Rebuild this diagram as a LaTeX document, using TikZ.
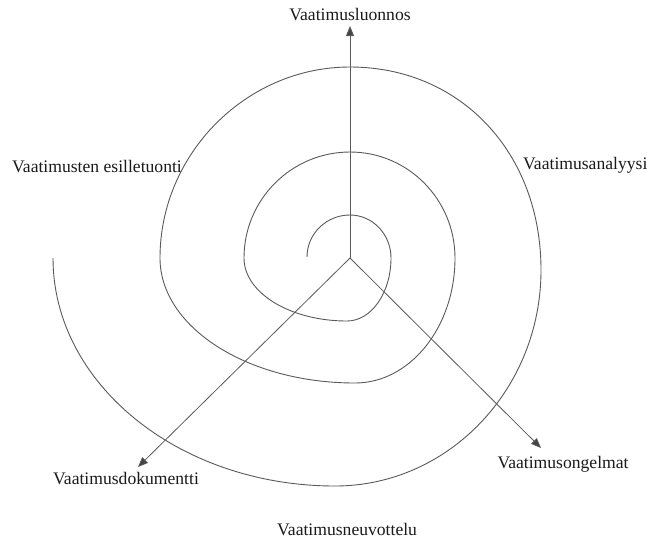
\documentclass[tikz,border=0pt]{standalone}
\usepackage{fontspec}
\setmainfont{Liberation Serif}
\usetikzlibrary{arrows.meta}
\definecolor{linegray}{HTML}{5A5A5A}
\definecolor{headgray}{HTML}{444444}
\definecolor{txt}{HTML}{1A1A1A}
\tikzset{
  lbl/.style={inner sep=0pt, text=txt, font=\fontsize{17.6}{20}\selectfont},
  axis/.style={draw=linegray, line width=0.8pt, -{Triangle[length=10pt,width=8pt,fill=headgray]}},
  spiralline/.style={draw=linegray, line width=0.9pt}
}
\begin{document}
\begin{tikzpicture}[x=1pt,y=-1pt]
\useasboundingbox (0,0) rectangle (647,539);
\fill[white] (0,0) rectangle (647,539);
\coordinate (c) at (350,258);
\coordinate (tipup) at (350,26);
\coordinate (tiprd) at (541,448);
\coordinate (tipld) at (138,467);
% spiral key points
\coordinate (L1) at (307,257);
\coordinate (T1) at (350,215);
\coordinate (R1) at (391,258);
\coordinate (B1) at (347,321);
\coordinate (L2) at (244,258);
\coordinate (T2) at (350,152);
\coordinate (R2) at (455,258);
\coordinate (B2) at (355,383);
\coordinate (L3) at (160,258);
\coordinate (T3) at (350,67);
\coordinate (R3) at (541,270);
\coordinate (B3) at (335,486);
\coordinate (E) at (53,258);
\draw[spiralline]
  (L1) .. controls +(0,-23.2) and +(-23.7,0) .. (T1)
       .. controls +(22.6,0) and +(0,-23.7) .. (R1)
       .. controls +(0,34.8) and +(24.3,0) .. (B1)
       .. controls +(-56.9,0) and +(0,34.8) .. (L2)
       .. controls +(0,-58.5) and +(-58.5,0) .. (T2)
       .. controls +(58,0) and +(0,-58.5) .. (R2)
       .. controls +(0,69) and +(55.2,0) .. (B2)
       .. controls +(-107.7,0) and +(0,69) .. (L3)
       .. controls +(0,-104) and +(-104,0) .. (T3)
       .. controls +(110,0) and +(0,-118) .. (R3)
       .. controls +(0,119) and +(113.8,0) .. (B3)
       .. controls +(-155.7,0) and +(0,125.9) .. (E);
% axes
\draw[axis] (c) -- (tipup);
\draw[axis] (c) -- (tiprd);
\draw[axis] (c) -- (tipld);
% labels
\node[lbl] (luonnos) at (350,15) {Vaatimusluonnos};
\node[lbl, anchor=west] (analyysi) at (523,165) {Vaatimusanalyysi};
\node[lbl] (ongelmat) at (563,464) {Vaatimusongelmat};
\node[lbl, anchor=west] (dokumentti) at (53,479) {Vaatimusdokumentti};
\node[lbl, anchor=west] (esilletuonti) at (12,167) {Vaatimusten esilletuonti};
\node[lbl, anchor=west] (neuvottelu) at (277,530) {Vaatimusneuvottelu};
\end{tikzpicture}
\end{document}
